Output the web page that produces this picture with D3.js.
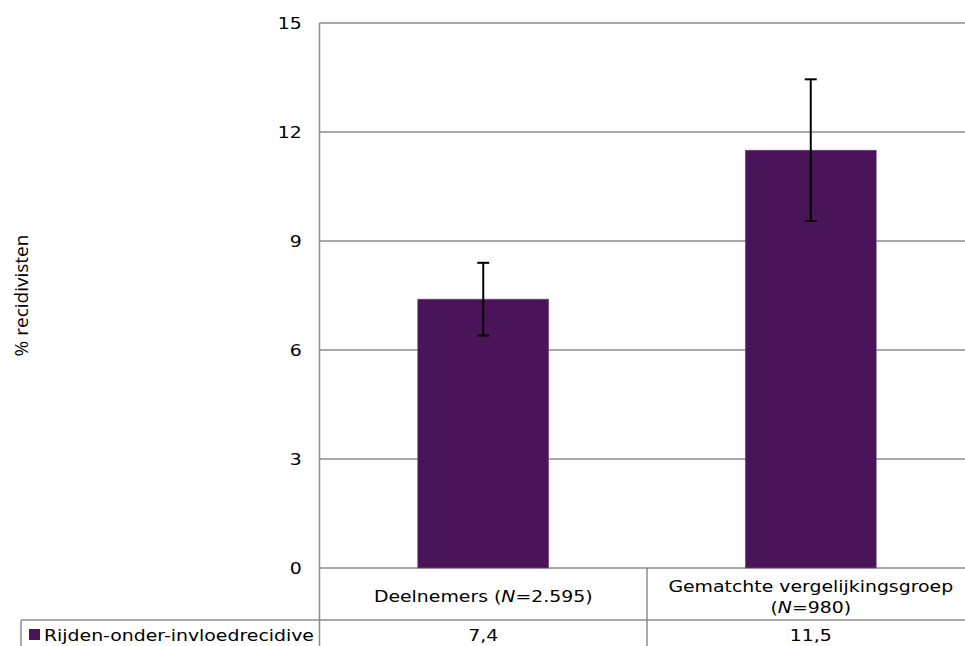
<!DOCTYPE html>
<html>
<head>
<meta charset="utf-8">
<script src="https://d3js.org/d3.v7.min.js"></script>
<style>
  body { margin: 0; background: #fff; overflow: hidden; }
  text { font-family: "DejaVu Sans", Verdana, sans-serif; fill: #000; }
</style>
</head>
<body>
<div id="chart"></div>
<script>
var svgWidth = 965;
var svgHeight = 646;

// data
var categories = ["Deelnemers", "Gematchte vergelijkingsgroep"];
var categoryN = ["2.595", "980"];
var seriesName = "Rijden-onder-invloedrecidive";
var values = [7.4, 11.5];
var valueLabels = ["7,4", "11,5"];
var errLow = [6.4, 9.55];
var errHigh = [8.4, 13.45];
var yTicks = [0, 3, 6, 9, 12, 15];

var margin = { top: 23, left: 319.5 };
var plotWidth = 655;
var plotHeight = 545;
var gridColor = "#8c8c8c";
var barColor = "#4a1459";
var fontSize = "16px";
var stretch = 1.18; // the original text is a bit wider than DejaVu

var svg = d3.select("#chart")
  .append("svg")
  .attr("width", svgWidth)
  .attr("height", svgHeight);

var chartGroup = svg.append("g")
  .attr("transform", `translate(${margin.left}, ${margin.top})`);

var xScale = d3.scaleBand()
  .domain(categories)
  .range([0, plotWidth])
  .paddingInner(0.6)
  .paddingOuter(0.3);

var xBand = d3.scaleBand()
  .domain(categories)
  .range([0, plotWidth]);

var yScale = d3.scaleLinear()
  .domain([0, 15])
  .range([plotHeight, 0]);

// put a text at x,y, widened horizontally
function wideText(parent, x, y, anchor) {
  return parent.append("g")
    .attr("transform", `translate(${x}, ${y}) scale(${stretch}, 1)`)
    .append("text")
    .attr("text-anchor", anchor)
    .attr("font-size", fontSize);
}

// gridlines
chartGroup.selectAll(".grid")
  .data(yTicks)
  .enter()
  .append("line")
  .attr("x1", 0)
  .attr("x2", plotWidth)
  .attr("y1", d => yScale(d))
  .attr("y2", d => yScale(d))
  .attr("stroke", gridColor)
  .attr("stroke-width", 1.5);

// y axis tick labels
var leftAxis = d3.axisLeft(yScale)
  .tickValues(yTicks)
  .tickSize(0)
  .tickPadding(15);

var yAxis = chartGroup.append("g").call(leftAxis);
yAxis.select(".domain").remove();
yAxis.selectAll("text")
  .attr("font-size", fontSize)
  .attr("font-family", "DejaVu Sans, Verdana, sans-serif")
  .attr("fill", "#000")
  .attr("transform", `scale(${stretch}, 1)`);

// bars
chartGroup.selectAll(".bar")
  .data(values)
  .enter()
  .append("rect")
  .attr("x", (d, i) => xScale(categories[i]))
  .attr("y", d => yScale(d))
  .attr("width", xScale.bandwidth())
  .attr("height", d => plotHeight - yScale(d))
  .attr("fill", barColor)
  .attr("stroke", "#7a5a86")
  .attr("stroke-width", 0.6);

// error bars
var errGroup = chartGroup.selectAll(".err")
  .data(categories)
  .enter()
  .append("g")
  .attr("transform", d => `translate(${xScale(d) + xScale.bandwidth() / 2}, 0)`);

errGroup.append("line")
  .attr("y1", (d, i) => yScale(errLow[i]))
  .attr("y2", (d, i) => yScale(errHigh[i]))
  .attr("stroke", "#000")
  .attr("stroke-width", 2);

errGroup.selectAll(".cap")
  .data((d, i) => [errLow[i], errHigh[i]])
  .enter()
  .append("line")
  .attr("x1", -6)
  .attr("x2", 6)
  .attr("y1", d => yScale(d))
  .attr("y2", d => yScale(d))
  .attr("stroke", "#000")
  .attr("stroke-width", 2);

// data table below the plot
var rowTop = plotHeight;
var rowMid = plotHeight + 52;
var rowBottom = plotHeight + 104;
var legendLeft = 21 - margin.left;

chartGroup.append("line")
  .attr("x1", legendLeft).attr("x2", plotWidth)
  .attr("y1", rowMid).attr("y2", rowMid)
  .attr("stroke", gridColor).attr("stroke-width", 1.5);

chartGroup.append("line")
  .attr("x1", legendLeft).attr("x2", legendLeft)
  .attr("y1", rowMid).attr("y2", rowBottom)
  .attr("stroke", gridColor).attr("stroke-width", 1.5);

// vertical lines: axis + band separators
chartGroup.selectAll(".vsep")
  .data([0].concat(categories.map(c => xBand(c) + xBand.bandwidth())))
  .enter()
  .append("line")
  .attr("x1", d => d).attr("x2", d => d)
  .attr("y1", (d, i) => i === 0 ? 0 : rowTop)
  .attr("y2", rowBottom)
  .attr("stroke", gridColor)
  .attr("stroke-width", 1.5);

// category labels
categories.forEach(function(d, i) {
  var cx = xBand(d) + xBand.bandwidth() / 2;
  if (i === 0) {
    var t = wideText(chartGroup, cx, rowTop + 34, "middle");
    t.append("tspan").text(d + " (");
    t.append("tspan").attr("font-style", "italic").text("N");
    t.append("tspan").text("=" + categoryN[i] + ")");
  } else {
    wideText(chartGroup, cx, rowTop + 24, "middle").text(d);
    var t2 = wideText(chartGroup, cx, rowTop + 45, "middle");
    t2.append("tspan").text("(");
    t2.append("tspan").attr("font-style", "italic").text("N");
    t2.append("tspan").text("=" + categoryN[i] + ")");
  }
});

// value row
valueLabels.forEach(function(d, i) {
  var cx = xBand(categories[i]) + xBand.bandwidth() / 2;
  wideText(chartGroup, cx, rowMid + 21, "middle").text(d);
});

// legend key in the table
chartGroup.append("rect")
  .attr("x", legendLeft + 8)
  .attr("y", rowMid + 9)
  .attr("width", 11)
  .attr("height", 11)
  .attr("fill", barColor);

wideText(chartGroup, legendLeft + 23, rowMid + 21, "start").text(seriesName);

// y axis title
svg.append("text")
  .attr("transform", `translate(28, ${margin.top + plotHeight / 2}) rotate(-90)`)
  .attr("text-anchor", "middle")
  .style("font-family", "'Open Sans', sans-serif")
  .attr("font-size", "19px")
  .text("% recidivisten");
</script>
</body>
</html>
